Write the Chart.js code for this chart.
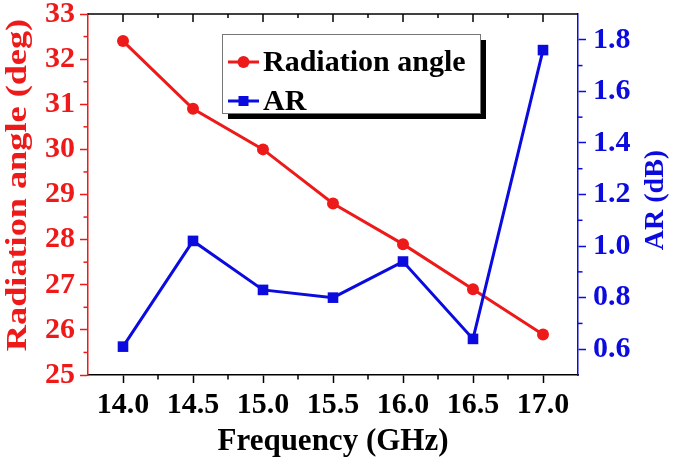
<!DOCTYPE html>
<html><head><meta charset="utf-8">
<script src="https://cdn.jsdelivr.net/npm/chart.js@4/dist/chart.umd.min.js"></script>
<style>html,body{margin:0;padding:0;background:#fff}#wrap{width:675px;height:463px}</style>
</head><body><div id="wrap"><canvas id="c" width="675" height="463"></canvas></div>
<script>
const frequency = [14.0, 14.5, 15.0, 15.5, 16.0, 16.5, 17.0];
const radiationAngle = [32.4, 30.9, 30.0, 28.8, 27.9, 26.9, 25.9];
const axialRatio = [0.61, 1.02, 0.83, 0.80, 0.94, 0.64, 1.76];
const xTicks = [14.0, 14.5, 15.0, 15.5, 16.0, 16.5, 17.0];
const angleTicks = [25, 26, 27, 28, 29, 30, 31, 32, 33];
const arTicks = [0.6, 0.8, 1.0, 1.2, 1.4, 1.6, 1.8];
const seriesNames = ['Radiation angle', 'AR'];
const xTitle = 'Frequency (GHz)';
const leftTitle = 'Radiation angle (deg)';
const rightTitle = 'AR (dB)';

const RED = '#ee1a1a';
const BLUE = '#0b0be0';
const FF = '"Liberation Serif", "Times New Roman", serif';

function minorVals(t) {
  const out = [];
  for (let i = 0; i < t.length - 1; i++) out.push((t[i] + t[i + 1]) / 2);
  return out;
}

const decor = {
  id: 'decor',
  afterDraw(chart) {
    const ctx = chart.ctx, ca = chart.chartArea;
    const sx = chart.scales.x, sy = chart.scales.y, sy1 = chart.scales.y1;
    ctx.save();
    // top frame line
    ctx.strokeStyle = '#000'; ctx.lineWidth = 1.5;
    ctx.beginPath(); ctx.moveTo(ca.left, ca.top); ctx.lineTo(ca.right, ca.top); ctx.stroke();
    // top inward ticks
    ctx.lineWidth = 1.5;
    xTicks.forEach(v => { const p = sx.getPixelForValue(v); ctx.beginPath(); ctx.moveTo(p, ca.top); ctx.lineTo(p, ca.top + 8); ctx.stroke(); });
    minorVals(xTicks).forEach(v => { const p = sx.getPixelForValue(v); ctx.beginPath(); ctx.moveTo(p, ca.top); ctx.lineTo(p, ca.top + 4); ctx.stroke(); });
    // bottom minor ticks
    minorVals(xTicks).forEach(v => { const p = sx.getPixelForValue(v); ctx.beginPath(); ctx.moveTo(p, ca.bottom); ctx.lineTo(p, ca.bottom + 4.5); ctx.stroke(); });
    // left minor ticks
    ctx.strokeStyle = RED;
    minorVals(angleTicks).forEach(v => { const p = sy.getPixelForValue(v); ctx.beginPath(); ctx.moveTo(ca.left, p); ctx.lineTo(ca.left - 4.5, p); ctx.stroke(); });
    // right minor ticks
    ctx.strokeStyle = BLUE;
    minorVals(arTicks).forEach(v => { const p = sy1.getPixelForValue(v); ctx.beginPath(); ctx.moveTo(ca.right, p); ctx.lineTo(ca.right + 4.5, p); ctx.stroke(); });

    // y titles
    ctx.textAlign = 'center'; ctx.textBaseline = 'middle';
    ctx.save();
    ctx.translate(19, ca.top + 171); ctx.rotate(-Math.PI / 2); ctx.scale(1.25, 1);
    ctx.font = 'bold 29px ' + FF; ctx.fillStyle = RED;
    ctx.fillText(leftTitle, 0, 0);
    ctx.restore();
    ctx.save();
    ctx.translate(656, ca.top + 186); ctx.rotate(-Math.PI / 2);
    ctx.font = 'bold 28px ' + FF; ctx.fillStyle = BLUE;
    ctx.fillText(rightTitle, 0, 0);
    ctx.restore();

    // legend
    const lx = ca.left + 134, ly = ca.top + 20, lw = 258, lh = 79;
    ctx.fillStyle = '#000'; ctx.fillRect(lx + 6, ly + 6, lw, lh);
    ctx.fillStyle = '#fff'; ctx.fillRect(lx, ly, lw, lh);
    ctx.strokeStyle = '#777'; ctx.lineWidth = 1; ctx.strokeRect(lx + 0.5, ly + 0.5, lw, lh);
    chart.data.datasets.forEach((ds, i) => {
      const ry = ly + 28 + i * 39;
      ctx.strokeStyle = ds.borderColor; ctx.lineWidth = 3;
      ctx.beginPath(); ctx.moveTo(lx + 6, ry); ctx.lineTo(lx + 37, ry); ctx.stroke();
      ctx.fillStyle = ds.borderColor;
      if (ds.pointStyle === 'rect') { ctx.fillRect(lx + 21.5 - 5, ry - 5, 10, 10); }
      else { ctx.beginPath(); ctx.arc(lx + 21.5, ry, 6, 0, Math.PI * 2); ctx.fill(); }
      ctx.fillStyle = '#000'; ctx.font = 'bold 30px ' + FF;
      ctx.textAlign = 'left'; ctx.textBaseline = 'middle';
      ctx.fillText(ds.label, lx + 41, ry + 1);
    });
    ctx.restore();
  }
};

new Chart(document.getElementById('c'), {
  type: 'line',
  data: {
    datasets: [
      { label: seriesNames[0], data: frequency.map((f, i) => ({ x: f, y: radiationAngle[i] })),
        yAxisID: 'y', borderColor: RED, backgroundColor: RED, borderWidth: 3,
        pointStyle: 'circle', pointRadius: 6, pointBorderWidth: 0, pointBackgroundColor: RED, order: 2 },
      { label: seriesNames[1], data: frequency.map((f, i) => ({ x: f, y: axialRatio[i] })),
        yAxisID: 'y1', borderColor: BLUE, backgroundColor: BLUE, borderWidth: 3,
        pointStyle: 'rect', pointRadius: 7.5, pointBorderWidth: 0, pointBackgroundColor: BLUE, order: 1 }
    ]
  },
  options: {
    responsive: false, animation: false, devicePixelRatio: 1,
    layout: { padding: { top: 14, left: 0, right: 0, bottom: 0 } },
    plugins: { legend: { display: false }, tooltip: { enabled: false } },
    scales: {
      x: {
        type: 'linear', position: 'bottom', min: 13.75, max: 17.25,
        afterBuildTicks: s => { s.ticks = xTicks.map(v => ({ value: v })); },
        afterFit: s => { s.height = 88; s.paddingLeft = 0; s.paddingRight = 0; },
        ticks: { color: '#000', font: { family: FF, size: 30, weight: 'bold' }, padding: 4,
                 maxRotation: 0, autoSkip: false, callback: v => Number(v).toFixed(1) },
        grid: { drawOnChartArea: false, tickLength: 8, tickColor: '#000', tickWidth: 1.5 },
        border: { color: '#000', width: 1.5 },
        title: { display: true, text: xTitle, color: '#000', font: { family: FF, size: 31, weight: 'bold' }, padding: { top: 0, bottom: 2 } }
      },
      y: {
        type: 'linear', position: 'left', min: 25, max: 33,
        afterBuildTicks: s => { s.ticks = angleTicks.map(v => ({ value: v })); },
        afterFit: s => { s.width = 88; s.paddingTop = 0; s.paddingBottom = 0; },
        ticks: { color: RED, font: { family: FF, size: 30, weight: 'bold' }, padding: 5 },
        grid: { drawOnChartArea: false, tickLength: 8, tickColor: RED, tickWidth: 1.5 },
        border: { color: RED, width: 1.5 }
      },
      y1: {
        type: 'linear', position: 'right', min: 0.5, max: 1.9,
        afterBuildTicks: s => { s.ticks = arTicks.map(v => ({ value: v })); },
        afterFit: s => { s.width = 97; s.paddingTop = 0; s.paddingBottom = 0; },
        ticks: { color: BLUE, font: { family: FF, size: 30, weight: 'bold' }, padding: 7,
                 callback: v => Number(v).toFixed(1) },
        grid: { drawOnChartArea: false, tickLength: 8, tickColor: BLUE, tickWidth: 1.5 },
        border: { color: BLUE, width: 1.5 }
      }
    }
  },
  plugins: [decor]
});
</script>
</body></html>
